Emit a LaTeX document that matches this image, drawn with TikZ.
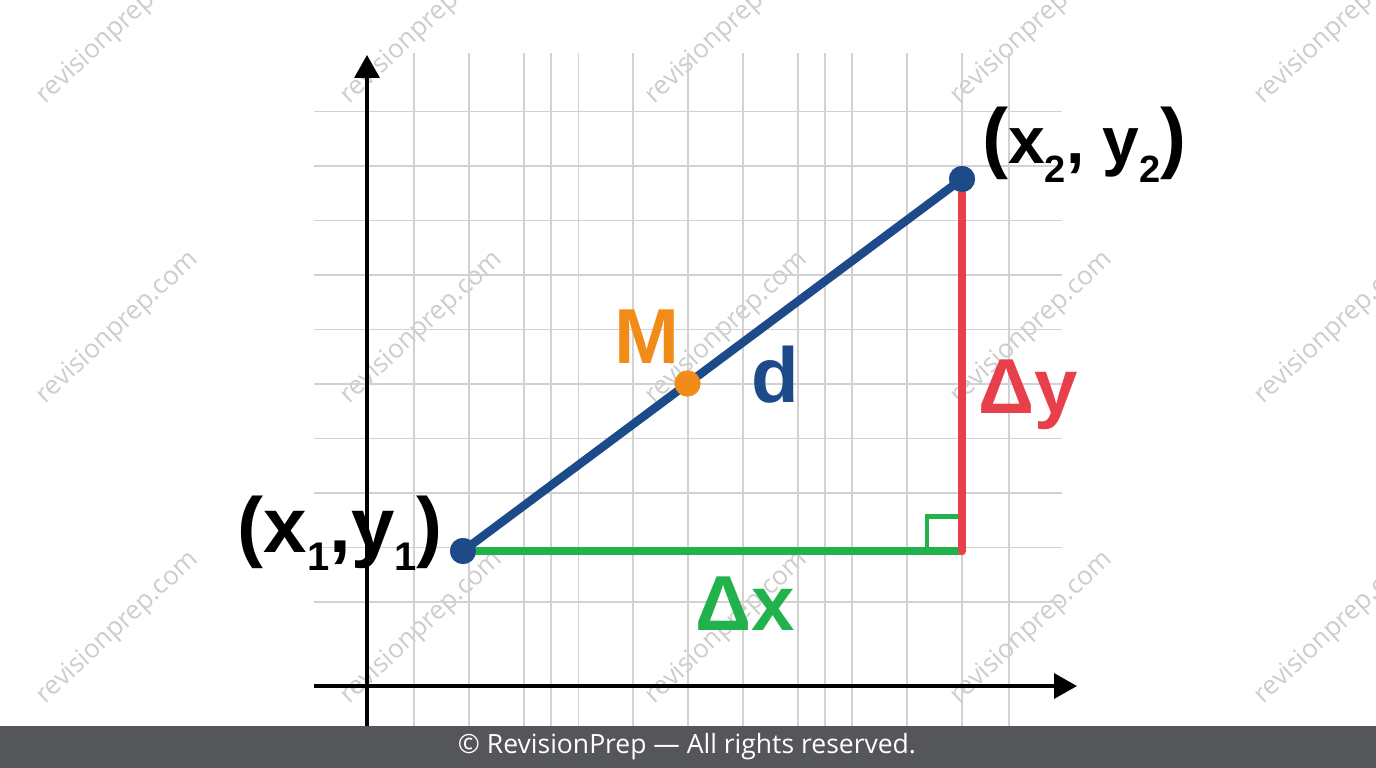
\documentclass[tikz,border=0pt]{standalone}
\usepackage{fontspec}
\setmainfont{Liberation Sans}
\newfontfamily\footfont{Open Sans}
\newfontfamily\wmfont{Open Sans}
\usetikzlibrary{arrows.meta}
\definecolor{gridgray}{HTML}{D2D2D2}
\definecolor{segblue}{HTML}{1D4B8A}
\definecolor{segred}{HTML}{E8404A}
\definecolor{seggreen}{HTML}{22B24C}
\definecolor{midorange}{HTML}{F28C18}
\definecolor{footgray}{HTML}{55565A}
\definecolor{wmgray}{HTML}{CDCDCD}
\tikzset{
  gridline/.style={draw=gridgray, line width=1.5pt},
  axisline/.style={draw=black, line width=3.3pt, -{Triangle[length=23pt,width=25pt]}},
  dot/.style={circle, fill=#1, minimum size=26pt, inner sep=0pt},
  watermark/.style={text=wmgray, font=\wmfont\fontsize{26}{26}\selectfont, rotate=43},
  biglabel/.style={inner sep=0pt, font=\bfseries\fontsize{78}{78}\selectfont},
  segline/.style={line width=8.5pt},
}
\begin{document}
\begin{tikzpicture}[x=1pt,y=-1pt]
\useasboundingbox (0,0) rectangle (1376,768);
\fill[white] (0,0) rectangle (1376,768);
% watermarks
\foreach \cx in {118,422,727,1032,1336}{
  \foreach \cy in {28,328,628}{
    \node[watermark] at (\cx,\cy) {revisionprep.com};
  }
}
% grid
\foreach \gx in {414,469,524,551,578.5,633,688,743,798,825,852,907,962,1009}{
  \draw[gridline] (\gx,53) -- (\gx,726);
}
\foreach \gy in {111.7,166.1,220.6,275,329.5,384,438.4,492.9,547.3,601.8}{
  \draw[gridline] (314,\gy) -- (1062,\gy);
}
% axes
\coordinate (yb) at (367,728);
\coordinate (yt) at (367,55);
\coordinate (xl) at (314,686);
\coordinate (xr) at (1077,686);
\draw[axisline] (yb) -- (yt);
\draw[axisline] (xl) -- (xr);
% points
\coordinate (c) at (962,551);
\node[dot=segblue] (p1) at (463,551) {};
\node[dot=segblue] (p2) at (962,179) {};
\node[dot=midorange] (m) at (687.5,383.5) {};
% segments
\draw[seggreen, segline] (p1.center) -- (c);
\draw[seggreen, line width=4.5pt] (927,551) -- (927,516.5) -- (962,516.5);
\draw[segred, segline, line cap=round] (p2.center) -- (c);
\draw[segblue, segline] (p1.center) -- (p2.center);
\node[dot=segblue] at (p1) {};
\node[dot=segblue] at (p2) {};
\node[dot=midorange] at (m) {};
% labels
\node[biglabel, anchor=base east] (l1) at (443,552)
  {(x\raisebox{-18pt}{\fontsize{40}{40}\selectfont 1},y\raisebox{-18pt}{\fontsize{40}{40}\selectfont 1})};
\node[biglabel, anchor=base west] (l2) at (982,163)
  {(\fontsize{66}{66}\selectfont x\raisebox{-19pt}{\fontsize{38}{38}\selectfont 2}, y\raisebox{-19pt}{\fontsize{38}{38}\selectfont 2}\fontsize{78}{78}\selectfont)};
\node[biglabel, text=midorange, anchor=base] (lm) at (647,363) {M};
\node[biglabel, text=segblue, anchor=base] (ld) at (775,402) {d};
\node[biglabel, text=segred, anchor=base west] (ly) at (978,413) {Δy};
\node[biglabel, text=seggreen, anchor=base] (lx) at (745,630) {Δx};
% footer
\fill[footgray] (0,726) rectangle (1376,768);
\node[text=white, font=\footfont\fontsize{26.5}{26.5}\selectfont] (ft) at (687,747) {© RevisionPrep — All rights reserved.};
\end{tikzpicture}
\end{document}
